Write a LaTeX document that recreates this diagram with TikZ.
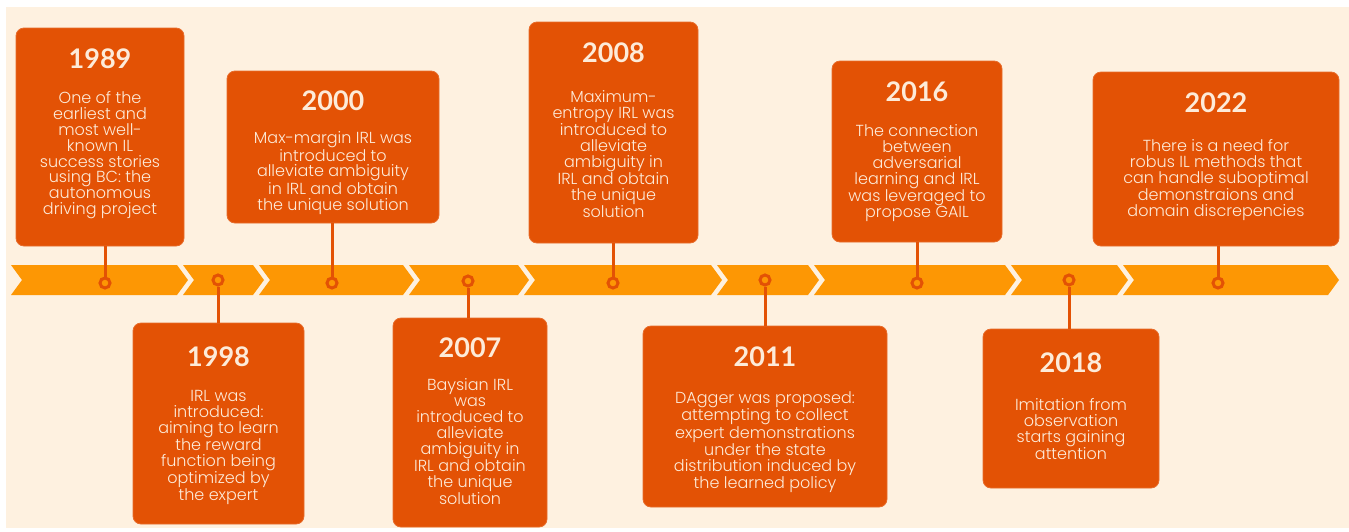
\documentclass[tikz,border=0pt]{standalone}
\usepackage{fontspec}
\usepackage[x11names, rgb]{xcolor}
\usetikzlibrary{positioning}

\newfontfamily\yearfont{Lato}
\newfontfamily\storyfont{Poppins Light}

\definecolor{cream}{HTML}{FEF1E0}
\definecolor{boxorange}{HTML}{E35205}
\definecolor{band}{HTML}{FD9704}
\definecolor{textcream}{HTML}{FDEBD9}

\begin{document}
\begin{tikzpicture}
[x=1pt, y=-1pt]
\tikzset{
	event/.style = {rounded corners=8pt, fill=boxorange, draw=boxorange!85!white, line width=0.8pt, inner sep=0},
	year/.style = {inner sep=0, text=textcream, font=\yearfont\bfseries\fontsize{27}{27}\selectfont},
	story/.style = {inner sep=0, text=textcream, align=center, font=\storyfont\fontsize{16}{15.8}\selectfont},
	pin/.style = {circle, draw=boxorange, fill=band, line width=3pt, minimum size=10pt, inner sep=0},
	stem/.style = {draw=boxorange, line width=3pt}
}

\fill [white] (0,0) rectangle (1349,531);
\useasboundingbox (0,0) rectangle (1349,531);
\fill [cream] (6,7) rectangle (1349,528);

% timeline band
\fill [band] (11,265) -- (177,265) -- (188,280) -- (177,295) -- (11,295) -- (22,280) -- cycle;
\fill [band] (183,265) -- (253,265) -- (264,280) -- (253,295) -- (183,295) -- (194,280) -- cycle;
\fill [band] (259,265) -- (403,265) -- (414,280) -- (403,295) -- (259,295) -- (270,280) -- cycle;
\fill [band] (409,265) -- (518,265) -- (529,280) -- (518,295) -- (409,295) -- (420,280) -- cycle;
\fill [band] (524,265) -- (711,265) -- (722,280) -- (711,295) -- (524,295) -- (535,280) -- cycle;
\fill [band] (717,265) -- (808,265) -- (819,280) -- (808,295) -- (717,295) -- (728,280) -- cycle;
\fill [band] (814,265) -- (1005,265) -- (1016,280) -- (1005,295) -- (814,295) -- (825,280) -- cycle;
\fill [band] (1011,265) -- (1117,265) -- (1128,280) -- (1117,295) -- (1011,295) -- (1022,280) -- cycle;
\fill [band] (1123,265) -- (1328,265) -- (1339,280) -- (1328,295) -- (1123,295) -- (1134,280) -- cycle;

% boxes above
\node (b1989) [event, minimum width=168pt, minimum height=218pt] at (100,137) {};
\node (b2000) [event, minimum width=212pt, minimum height=152pt] at (333,147) {};
\node (b2008) [event, minimum width=169pt, minimum height=221pt] at (613.5,132.5) {};
\node (b2016) [event, minimum width=170pt, minimum height=181pt] at (917,151.5) {};
\node (b2022) [event, minimum width=246pt, minimum height=174pt] at (1216,159) {};
% boxes below
\node (b1998) [event, minimum width=171pt, minimum height=201pt] at (218.5,423.5) {};
\node (b2007) [event, minimum width=154pt, minimum height=209pt] at (470,422.5) {};
\node (b2011) [event, minimum width=244pt, minimum height=181pt] at (765,416.5) {};
\node (b2018) [event, minimum width=176pt, minimum height=159pt] at (1071,408.5) {};

% years
\node (y1989) [year, below=21pt of b1989.north] {1989};
\node (y2000) [year, below=20pt of b2000.north] {2000};
\node (y2008) [year, below=21pt of b2008.north] {2008};
\node (y2016) [year, below=21pt of b2016.north] {2016};
\node (y2022) [year, below=21pt of b2022.north] {2022};
\node (y1998) [year, below=24pt of b1998.north] {1998};
\node (y2007) [year, below=20pt of b2007.north] {2007};
\node (y2011) [year, below=21pt of b2011.north] {2011};
\node (y2018) [year, below=24pt of b2018.north] {2018};

% stories
\node (s1989) [story, below=64pt of b1989.north] {One of the\\earliest and\\most well-\\known IL\\success stories\\using BC: the\\autonomous\\driving project};
\node (s2000) [story, below=61pt of b2000.north] {Max-margin IRL was\\introduced to\\alleviate ambiguity\\in IRL and obtain\\the unique solution};
\node (s2008) [story, below=69pt of b2008.north] {Maximum-\\entropy IRL was\\introduced to\\alleviate\\ambiguity in\\IRL and obtain\\the unique\\solution};
\node (s2016) [story, below=64pt of b2016.north] {The connection\\between\\adversarial\\learning and IRL\\was leveraged to\\propose GAIL};
\node (s2022) [story, below=68pt of b2022.north] {There is a need for\\robus IL methods that\\can handle suboptimal\\demonstraions and\\domain discrepencies};
\node (s1998) [story, below=68pt of b1998.north] {IRL was\\introduced:\\aiming to learn\\the reward\\function being\\optimized by\\the expert};
\node (s2007) [story, below=61pt of b2007.north] {Baysian IRL\\was\\introduced to\\alleviate\\ambiguity in\\IRL and obtain\\the unique\\solution};
\node (s2011) [story, below=66pt of b2011.north] {DAgger was proposed:\\attempting to collect\\expert demonstrations\\under the state\\distribution induced by\\the learned policy};
\node (s2018) [story, below=70pt of b2018.north] {Imitation from\\observation\\starts gaining\\attention};

% pins on the band
\node (p1989) [pin] at (105,283) {};
\node (p1998) [pin] at (218,280) {};
\node (p2000) [pin] at (332,283) {};
\node (p2007) [pin] at (468,281) {};
\node (p2008) [pin] at (613,283) {};
\node (p2011) [pin] at (765,280) {};
\node (p2016) [pin] at (917,283) {};
\node (p2018) [pin] at (1069,280) {};
\node (p2022) [pin] at (1218,283) {};

\draw [stem] (p1989) -- (p1989 |- b1989.south);
\draw [stem] (p2000) -- (p2000 |- b2000.south);
\draw [stem] (p2008) -- (p2008 |- b2008.south);
\draw [stem] (p2016) -- (p2016 |- b2016.south);
\draw [stem] (p2022) -- (p2022 |- b2022.south);
\draw [stem] (p1998) -- (p1998 |- b1998.north);
\draw [stem] (p2007) -- (p2007 |- b2007.north);
\draw [stem] (p2011) -- (p2011 |- b2011.north);
\draw [stem] (p2018) -- (p2018 |- b2018.north);
\end{tikzpicture}
\end{document}
